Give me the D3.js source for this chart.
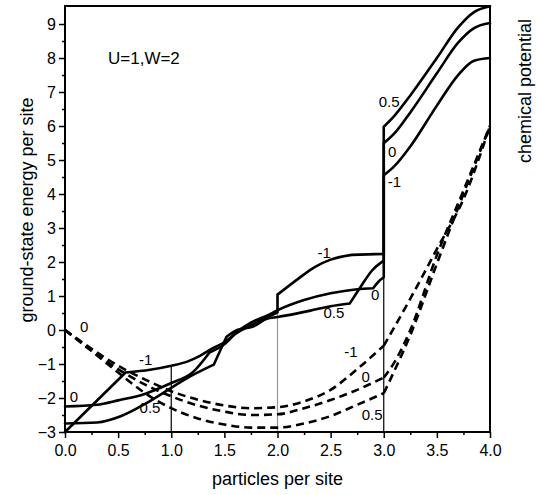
<!DOCTYPE html>
<html>
<head>
<meta charset="utf-8">
<script src="https://d3js.org/d3.v7.min.js"></script>
<style>
body { margin: 0; background: #fff; }
svg { display: block; font-family: "Liberation Sans", Arial, sans-serif; }
</style>
</head>
<body>
<svg id="chart" width="536" height="495"></svg>
<script>
// ground-state energy per site (solid), runs split at kinks and jumps
const energyM1 = [
    [[0, -3.0], [0.57, -1.25]],
    [[0.57, -1.25], [0.8, -1.17], [1.0, -1.05], [1.15, -0.93], [1.27, -0.76], [1.4, -0.52], [1.5, -0.36], [1.6, -0.12], [1.75, 0.14], [1.9, 0.37], [2.0, 0.52]],
    [[2.0, 0.52], [2.0, 1.04]],
    [[2.0, 1.04], [2.2, 1.52], [2.35, 1.85], [2.5, 2.07], [2.7, 2.21]],
    [[2.7, 2.21], [3.0, 2.24]],
    [[3.0, 2.24], [3.0, 4.55]],
    [[3.0, 4.55], [3.1, 4.82], [3.25, 5.4], [3.5, 6.6], [3.7, 7.5], [3.85, 7.92], [4.0, 8.0]]
];
const energy0 = [
    [[0, -2.25], [0.3, -2.2], [0.5, -2.07], [0.75, -1.88], [1.0, -1.56], [1.2, -1.25], [1.36, -0.66]],
    [[1.36, -0.66], [1.5, -0.42], [1.62, -0.05], [1.75, 0.22], [1.9, 0.42], [2.0, 0.58], [2.25, 0.88], [2.5, 1.08], [2.75, 1.2], [2.9, 1.23]],
    [[2.9, 1.23], [2.95, 1.42], [3.0, 1.55]],
    [[3.0, 1.55], [3.0, 5.49]],
    [[3.0, 5.49], [3.1, 5.78], [3.25, 6.4], [3.5, 7.55], [3.7, 8.45], [3.85, 8.88], [4.0, 9.03]]
];
const energy05 = [
    [[0, -2.75], [0.3, -2.72], [0.53, -2.53], [0.75, -2.18], [1.0, -1.7], [1.13, -1.45], [1.4, -1.02]],
    [[1.4, -1.02], [1.52, -0.2]],
    [[1.52, -0.2], [1.62, 0.0], [1.77, 0.1], [1.9, 0.33], [2.0, 0.38], [2.31, 0.57], [2.5, 0.7], [2.68, 0.78]],
    [[2.68, 0.78], [2.78, 1.26], [2.89, 1.75], [3.0, 2.04]],
    [[3.0, 2.04], [3.0, 5.98]],
    [[3.0, 5.98], [3.1, 6.3], [3.25, 6.9], [3.5, 8.0], [3.7, 8.9], [3.85, 9.35], [4.0, 9.52]]
];

// chemical potential (dashed)
const chemM1 = [
    [[0, 0], [0.25, -0.55], [0.5, -1.05], [0.75, -1.45], [1, -1.8], [1.25, -2.05], [1.5, -2.22], [1.75, -2.3], [2, -2.27], [2.25, -2.1], [2.5, -1.76], [2.75, -1.15], [3, -0.46]],
    [[3, -0.46], [3.25, 0.92], [3.5, 2.38], [3.75, 3.85], [4, 6.0]]
];
const chem0 = [
    [[0, 0], [0.25, -0.6], [0.5, -1.15], [0.75, -1.6], [1, -1.95], [1.25, -2.22], [1.5, -2.4], [1.75, -2.5], [2, -2.48], [2.25, -2.3], [2.5, -2.06], [2.75, -1.76], [3, -1.4]],
    [[3, -1.4], [3.1, -0.95], [3.25, 0.0], [3.5, 2.2], [3.75, 4.1], [4, 6.0]]
];
const chem05 = [
    [[0, 0], [0.25, -0.62], [0.5, -1.25], [0.75, -1.85], [1, -2.3], [1.25, -2.6], [1.5, -2.78], [1.75, -2.87], [2, -2.87], [2.25, -2.75], [2.5, -2.53], [2.75, -2.2], [3, -1.86]],
    [[3, -1.86], [3.1, -1.2], [3.25, -0.15], [3.5, 1.95], [3.75, 4.0], [4, 6.0]]
];

// thin guide lines at integer filling
const guideX = [1, 2, 3];
const guideTop = [-1.05, 1.04, 2.24];
const guideColor = ["#000", "#999", "#000"];

// curve labels
const labelText = ["0", "-1", "0", "0.5", "-1", "0", "0.5", "-1", "0", "0.5", "0.5", "0", "-1"];
const labelX = [0.18, 0.76, 0.085, 0.80, 2.44, 2.92, 2.53, 2.69, 2.83, 2.89, 3.05, 3.08, 3.10];
const labelY = [-0.06, -1.03, -2.12, -2.44, 2.12, 0.88, 0.35, -0.79, -1.53, -2.65, 6.56, 5.09, 4.21];

const xMajor = d3.range(0, 4.01, 0.5);
const xMinor = d3.range(0.25, 4, 0.5);
const yMajor = d3.range(-3, 9.01, 1);
const yMinor = d3.range(-2.5, 9.01, 1);

const svg = d3.select("#chart");
const mLeft = 65, mRight = 490, mTop = 6, mBottom = 432;

const x = d3.scaleLinear().domain([0, 4]).range([mLeft, mRight]);
const y = d3.scaleLinear().domain([-3, 9.53]).range([mBottom, mTop]);

// axes
const gx = svg.append("g").attr("transform", `translate(0,${mBottom})`)
    .call(d3.axisBottom(x).tickValues(xMajor).tickSize(6).tickSizeOuter(0).tickPadding(7).tickFormat(d3.format(".1f")));
const gxm = svg.append("g").attr("transform", `translate(0,${mBottom})`)
    .call(d3.axisBottom(x).tickValues(xMinor).tickSize(3).tickSizeOuter(0).tickFormat(""));
const gy = svg.append("g").attr("transform", `translate(${mLeft},0)`)
    .call(d3.axisLeft(y).tickValues(yMajor).tickSize(6).tickSizeOuter(0).tickPadding(3).tickFormat(d3.format("d")));
const gym = svg.append("g").attr("transform", `translate(${mLeft},0)`)
    .call(d3.axisLeft(y).tickValues(yMinor).tickSize(3).tickSizeOuter(0).tickFormat(""));

[gx, gxm, gy, gym].forEach(g => {
    g.select(".domain").remove();
    g.selectAll(".tick line").attr("stroke", "#000").attr("stroke-width", 1.5);
    g.selectAll("text").attr("font-size", 16).attr("fill", "#000")
        .attr("font-family", '"Liberation Sans", Arial, sans-serif');
});

// guide lines
guideX.forEach((g, i) => {
    svg.append("line")
        .attr("x1", x(g)).attr("x2", x(g))
        .attr("y1", y(-3)).attr("y2", y(guideTop[i]))
        .attr("stroke", guideColor[i])
        .attr("stroke-width", 1.2);
});

const line = d3.line().x(d => x(d[0])).y(d => y(d[1])).curve(d3.curveMonotoneX);

function drawCurve(runs, dashed) {
    svg.append("path")
        .attr("d", runs.map(r => line(r)).join(""))
        .attr("fill", "none")
        .attr("stroke", "#000")
        .attr("stroke-width", 2.6)
        .attr("stroke-linecap", dashed ? "butt" : "round")
        .attr("stroke-linejoin", "round")
        .attr("stroke-dasharray", dashed ? "8,5" : null);
}

[chemM1, chem0, chem05].forEach(c => drawCurve(c, true));
[energyM1, energy0, energy05].forEach(c => drawCurve(c, false));

// frame
svg.append("rect")
    .attr("x", mLeft).attr("y", mTop)
    .attr("width", mRight - mLeft).attr("height", mBottom - mTop)
    .attr("fill", "none")
    .attr("stroke", "#000")
    .attr("stroke-width", 2);

// curve labels
svg.selectAll("text.lab")
    .data(labelText)
    .enter()
    .append("text")
    .attr("class", "lab")
    .attr("x", (d, i) => x(labelX[i]))
    .attr("y", (d, i) => y(labelY[i]))
    .attr("text-anchor", "middle")
    .attr("font-size", 15)
    .text(d => d);

svg.append("text")
    .attr("x", 108).attr("y", 64)
    .attr("font-size", 17)
    .text("U=1,W=2");

// axis titles
svg.append("text")
    .attr("x", x(2)).attr("y", 485)
    .attr("text-anchor", "middle")
    .attr("font-size", 18)
    .text("particles per site");

svg.append("text")
    .attr("transform", "translate(33,210) rotate(-90)")
    .attr("text-anchor", "middle")
    .attr("font-size", 18)
    .text("ground-state energy per site");

svg.append("text")
    .attr("transform", "translate(531,91) rotate(-90)")
    .attr("text-anchor", "middle")
    .attr("font-size", 18)
    .text("chemical potential");
</script>
</body>
</html>
